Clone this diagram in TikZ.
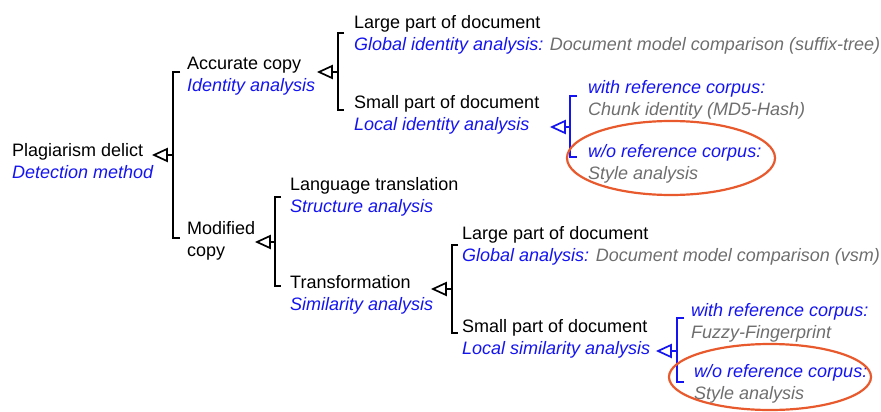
\documentclass[tikz,border=0pt]{standalone}
\usepackage{fontspec}
\setmainfont{Liberation Sans}
\usetikzlibrary{arrows.meta}
\definecolor{bl}{RGB}{20,20,240}
\definecolor{gr}{RGB}{110,110,110}
\definecolor{og}{RGB}{232,90,45}
\newcommand{\tl}[2]{\begin{tabular}[t]{@{}l@{}}#1\\#2\end{tabular}}
\begin{document}
\begin{tikzpicture}[x=1pt,y=-1pt,
  txt/.style={anchor=base west,inner sep=0pt,font=\fontsize{18}{22}\selectfont},
  brk/.style={line width=1.7pt,line cap=butt,line join=miter},
  tri/.style={line width=1.7pt,line join=miter,fill=white},
  el/.style={draw=og,line width=2.2pt},
]
\useasboundingbox (0,0) rectangle (881,412);
\setlength{\tabcolsep}{0pt}
% nodes
\node[txt] (root) at (12,156) {\tl{Plagiarism delict}{\textcolor{bl}{\itshape Detection method}}};
\node[txt] (acc) at (187,70) {\tl{Accurate copy}{\textcolor{bl}{\itshape Identity analysis}}};
\node[txt] (lp1) at (354,29) {\tl{Large part of document}{\textcolor{bl}{\itshape Global identity analysis:} \textcolor{gr}{\itshape Document model comparison (suffix-tree)}}};
\node[txt] (sp1) at (354,108) {\tl{Small part of document}{\textcolor{bl}{\itshape Local identity analysis}}};
\node[txt] (wr1) at (588,93) {\tl{\textcolor{bl}{\itshape with reference corpus:}}{\textcolor{gr}{\itshape Chunk identity (MD5-Hash)}}};
\node[txt] (wo1) at (588,157) {\tl{\textcolor{bl}{\itshape w/o reference corpus:}}{\textcolor{gr}{\itshape Style analysis}}};
\node[txt] (mod) at (187,234) {\tl{Modified}{copy}};
\node[txt] (lt) at (290,190) {\tl{Language translation}{\textcolor{bl}{\itshape Structure analysis}}};
\node[txt] (tr) at (290,288) {\tl{Transformation}{\textcolor{bl}{\itshape Similarity analysis}}};
\node[txt] (lp2) at (462,239) {\tl{Large part of document}{\textcolor{bl}{\itshape Global analysis:} \textcolor{gr}{\itshape Document model comparison (vsm)}}};
\node[txt] (sp2) at (462,332) {\tl{Small part of document}{\textcolor{bl}{\itshape Local similarity analysis}}};
\node[txt] (wr2) at (691,316) {\tl{\textcolor{bl}{\itshape with reference corpus:}}{\textcolor{gr}{\itshape Fuzzy-Fingerprint}}};
\node[txt] (wo2) at (694,377) {\tl{\textcolor{bl}{\itshape w/o reference corpus:}}{\textcolor{gr}{\itshape Style analysis}}};
% coordinates
\coordinate (t0) at (154,155); \coordinate (m0) at (173,155);
\coordinate (b0a) at (180,72); \coordinate (b0b) at (180,238);
\coordinate (t1) at (319,72); \coordinate (m1) at (338,72);
\coordinate (b1a) at (344,33); \coordinate (b1b) at (344,110);
\coordinate (t2) at (552,127); \coordinate (m2) at (570,127);
\coordinate (b2a) at (577,96); \coordinate (b2b) at (577,157);
\coordinate (t3) at (257,242); \coordinate (m3) at (275,242);
\coordinate (b3a) at (281,197); \coordinate (b3b) at (281,286);
\coordinate (t4) at (433,289); \coordinate (m4) at (452,289);
\coordinate (b4a) at (458,245); \coordinate (b4b) at (458,333);
\coordinate (t5) at (658,351); \coordinate (m5) at (677,351);
\coordinate (b5a) at (684,318); \coordinate (b5b) at (684,382);
\coordinate (e1c) at (671,158);
\coordinate (e2c) at (770,377);
% brackets and open-triangle arrows
\foreach \i/\c in {0/black,1/black,2/bl,3/black,4/black,5/bl}{
  \draw[brk,\c] (b\i a) -- (m\i |- b\i a) -- (m\i |- b\i b) -- (b\i b);
  \draw[brk,\c] (m\i) -- (t\i);
  \draw[\c,tri] (t\i) -- ++(13,-6) -- ++(0,12) -- cycle;
}
% ellipses
\draw[el] (e1c) ellipse [x radius=104, y radius=37];
\draw[el] (e2c) ellipse [x radius=101, y radius=33];
\end{tikzpicture}
\end{document}
